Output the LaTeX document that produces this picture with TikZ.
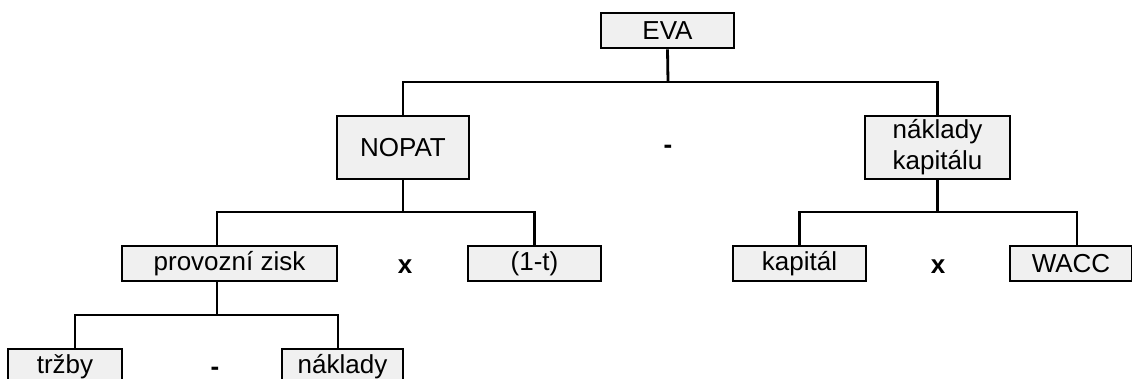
\documentclass[tikz,border=0pt]{standalone}
\usepackage{fontspec}
\setmainfont{Liberation Sans}
\definecolor{boxfill}{HTML}{F0F0F0}
\begin{document}
\begin{tikzpicture}[x=1pt,y=-1pt,
  box/.style={draw=black, fill=boxfill, line width=2.8pt, inner sep=0pt,
    minimum height=35pt, font=\fontsize{26}{31}\selectfont},
  tallbox/.style={box, minimum height=63pt, align=center},
  op/.style={inner sep=0pt, font=\fontsize{26}{31}\selectfont\bfseries},
  conn/.style={line width=2.8pt}]
\useasboundingbox (0,0) rectangle (1132,379);
\clip (0,0) rectangle (1132,379);
% nodes
\node[box, minimum width=133pt] (eva) at (667.5,30.5) {EVA};
\node[tallbox, minimum width=132pt] (nopat) at (403,147.5) {NOPAT};
\node[tallbox, minimum width=145pt] (nk) at (937.5,147.5) {náklady\\kapitálu};
\node[box, minimum width=215pt] (pz) at (229.5,263.5) {provozní zisk};
\node[box, minimum width=133pt] (onet) at (534.5,263.5) {(1-t)};
\node[box, minimum width=133pt] (kap) at (799.5,263.5) {kapitál};
\node[box, minimum width=122pt] (wacc) at (1071,263.5) {WACC};
\node[box, minimum width=114pt] (trz) at (65,366.5) {tržby};
\node[box, minimum width=121pt] (nakl) at (342.5,366.5) {náklady};
% operators
\node[op] (m1) at (668,149) {-};
\node[op] (x1) at (405,267) {x};
\node[op] (x2) at (938,267) {x};
\node[op] (m2) at (215,371) {-};
% junctions and attachment points
\coordinate (j1) at (668,82);
\coordinate (j2) at (403,212);
\coordinate (j3) at (937.5,212);
\coordinate (j4) at (217,315);
\coordinate (pzN) at (217,246);
\coordinate (pzS) at (217,281);
\coordinate (waccN) at (1077,246);
\coordinate (trzN) at (75,349);
\coordinate (naklN) at (338,349);
% connectors
\draw[conn] (eva.south) -- (j1);
\draw[conn] (nopat.north) |- (j1) -| (nk.north);
\draw[conn] (nopat.south) -- (j2);
\draw[conn] (pzN) |- (j2) -| (onet.north);
\draw[conn] (nk.south) -- (j3);
\draw[conn] (kap.north) |- (j3) -| (waccN);
\draw[conn] (pzS) -- (j4);
\draw[conn] (trzN) |- (j4) -| (naklN);
\end{tikzpicture}
\end{document}
